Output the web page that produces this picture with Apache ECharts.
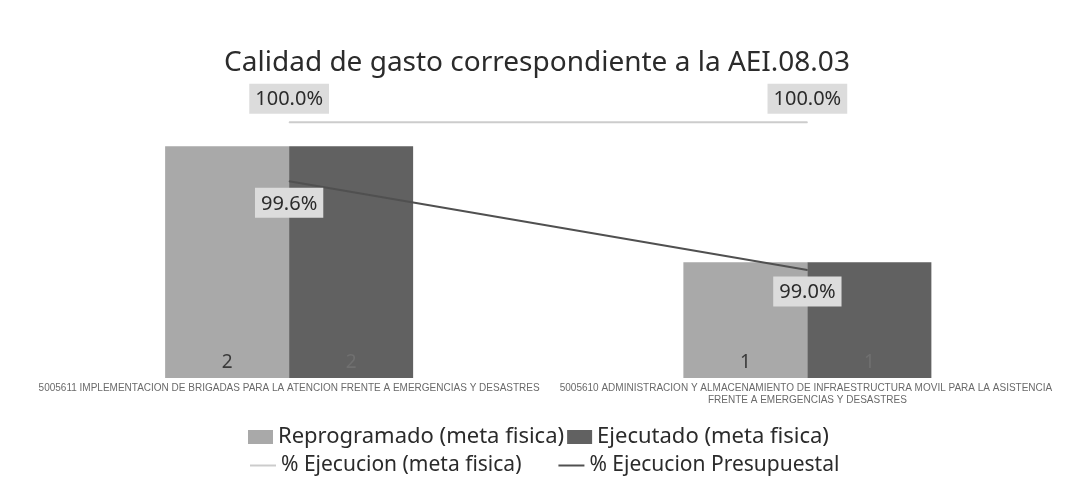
<!DOCTYPE html>
<html>
<head>
<meta charset="utf-8">
<script src="https://cdn.jsdelivr.net/npm/echarts@6/dist/echarts.min.js"></script>
<style>
  html, body { margin: 0; padding: 0; background: #fff; }
  #chart { width: 1074px; height: 494px; }
</style>
</head>
<body>
<div id="chart"></div>
<script>
var categories = [
  '5005611 IMPLEMENTACION DE BRIGADAS PARA LA ATENCION FRENTE A EMERGENCIAS Y DESASTRES',
  '5005610 ADMINISTRACION Y ALMACENAMIENTO DE INFRAESTRUCTURA MOVIL PARA LA ASISTENCIA FRENTE A EMERGENCIAS Y DESASTRES'
]
var reprogramado = [2, 1]
var ejecutado = [2, 1]
var ejecucionMeta = [100.0, 100.0]
var ejecucionPresupuestal = [99.6, 99.0]

var chart = echarts.init(document.getElementById('chart'))

var pctLabel = function (position, distance) {
  return {
    show: true,
    position: position,
    distance: distance,
    formatter: function (p) { return p.value.toFixed(1) + '%' },
    fontFamily: 'Noto Sans',
    fontSize: 20,
    color: '#2b2b2b',
    backgroundColor: '#dcdcdc',
    padding: [6, 6, 4, 6]
  }
}

chart.setOption({
  animation: false,
  title: {
    text: 'Calidad de gasto correspondiente a la AEI.08.03',
    left: 'center',
    top: 44,
    textStyle: {
      fontFamily: 'Noto Sans',
      fontWeight: 'normal',
      fontSize: 28,
      color: '#2b2b2b'
    }
  },
  legend: [{
    left: 243,
    top: 421,
    itemGap: 3,
    itemWidth: 25,
    itemHeight: 14,
    icon: 'rect',
    textStyle: { fontFamily: 'Noto Sans', fontSize: 22, color: '#2b2b2b' },
    data: ['Reprogramado (meta fisica)', 'Ejecutado (meta fisica)']
  }, {
    left: 245,
    top: 450,
    itemGap: 37,
    itemWidth: 26,
    itemHeight: 2,
    icon: 'rect',
    textStyle: { fontFamily: 'Noto Sans', fontSize: 21, color: '#2b2b2b' },
    data: ['% Ejecucion (meta fisica)', '% Ejecucion Presupuestal']
  }],
  grid: {
    left: 30,
    right: 2,
    top: 100,
    bottom: 116
  },
  xAxis: {
    type: 'category',
    data: categories,
    axisLine: { show: false },
    axisTick: { show: false },
    axisLabel: {
      interval: 0,
      margin: 4,
      width: 530,
      overflow: 'break',
      fontFamily: 'Liberation Sans',
      fontSize: 10,
      lineHeight: 12,
      color: '#6a6a6a'
    }
  },
  yAxis: [{
    type: 'value',
    min: 0,
    max: 2.4,
    show: false,
    splitLine: { show: false }
  }, {
    type: 'value',
    min: 98.27,
    max: 100.15,
    show: false,
    splitLine: { show: false }
  }],
  series: [{
    name: 'Reprogramado (meta fisica)',
    type: 'bar',
    barWidth: 124,
    barGap: '0%',
    itemStyle: { color: '#a9a9a9' },
    label: {
      show: true,
      position: 'insideBottom',
      distance: 6,
      fontFamily: 'Noto Sans',
      fontSize: 19,
      color: '#3a3a3a'
    },
    data: reprogramado
  }, {
    name: 'Ejecutado (meta fisica)',
    type: 'bar',
    barWidth: 124,
    itemStyle: { color: '#616161' },
    label: {
      show: true,
      position: 'insideBottom',
      distance: 6,
      fontFamily: 'Noto Sans',
      fontSize: 19,
      color: '#707070'
    },
    data: ejecutado
  }, {
    name: '% Ejecucion (meta fisica)',
    type: 'line',
    yAxisIndex: 1,
    symbol: 'circle',
    symbolSize: 1,
    showSymbol: true,
    itemStyle: { color: '#cccccc' },
    lineStyle: { color: '#cccccc', width: 2 },
    label: pctLabel('top', 8),
    data: ejecucionMeta
  }, {
    name: '% Ejecucion Presupuestal',
    type: 'line',
    yAxisIndex: 1,
    symbol: 'circle',
    symbolSize: 1,
    showSymbol: true,
    itemStyle: { color: '#505050' },
    lineStyle: { color: '#505050', width: 2 },
    label: pctLabel('bottom', 6),
    data: ejecucionPresupuestal
  }]
})
</script>
</body>
</html>
